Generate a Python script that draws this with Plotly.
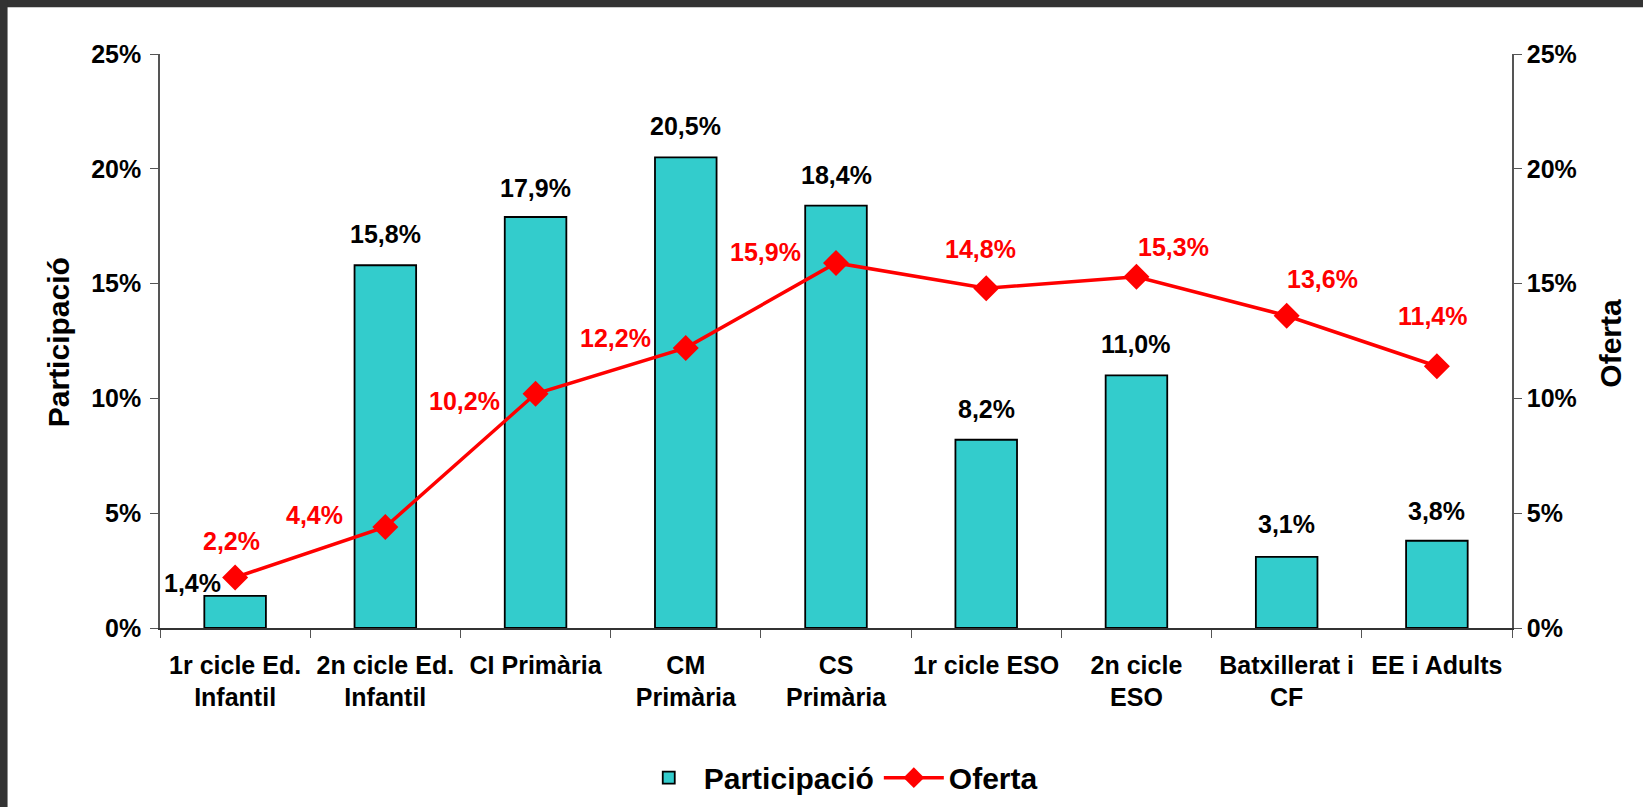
import plotly.graph_objects as go

categories = ["1r cicle Ed.<br>Infantil", "2n cicle Ed.<br>Infantil", "CI Primària",
              "CM<br>Primària", "CS<br>Primària", "1r cicle ESO", "2n cicle<br>ESO",
              "Batxillerat i<br>CF", "EE i Adults"]
participacio = [1.4, 15.8, 17.9, 20.5, 18.4, 8.2, 11.0, 3.1, 3.8]
oferta = [2.2, 4.4, 10.2, 12.2, 15.9, 14.8, 15.3, 13.6, 11.4]
y_ticks = [0, 5, 10, 15, 20, 25]
y_tick_text = ["0%", "5%", "10%", "15%", "20%", "25%"]

# label offsets (pixels) relative to point
bar_label_shift = [(-43, 13), (0, 31), (0, 29), (0, 31), (0, 31), (0, 31), (0, 31), (0, 33), (0, 30)]
line_label_shift = [(-4, 36), (-71, 12), (-71, -7), (-70, 10), (-71, 11), (-6, 39), (37, 30), (36, 37), (-4, 50)]

FONT = "Liberation Sans, Arial, sans-serif"
W, H = 1643, 807
ML, MR, MT, MB = 159.5, 131, 54.3, 178.7
PW, PH = W - ML - MR, H - MT - MB

def fmt(v):
    return f"{v:.1f}".replace(".", ",") + "%"

fig = go.Figure()
fig.add_trace(go.Bar(
    x=categories, y=participacio, name="Participació",
    marker=dict(color="#33CCCC", line=dict(color="#000000", width=1.8)),
))
fig.add_trace(go.Scatter(
    x=categories, y=oferta, name="Oferta", yaxis="y2", mode="lines+markers",
    line=dict(color="#FF0000", width=3.5),
    marker=dict(symbol="diamond", size=20, color="#FF0000"),
))

ann = []
for c, v, (dx, dy) in zip(categories, participacio, bar_label_shift):
    ann.append(dict(x=c, y=v, xref="x", yref="y", text=fmt(v), showarrow=False,
                    xanchor="center", yanchor="middle",
                    xshift=dx, yshift=dy, font=dict(size=25, color="#000000", family=FONT, weight="bold")))
for c, v, (dx, dy) in zip(categories, oferta, line_label_shift):
    ann.append(dict(x=c, y=v, xref="x", yref="y2", text=fmt(v), showarrow=False,
                    xanchor="center", yanchor="middle",
                    xshift=dx, yshift=dy, font=dict(size=25, color="#FF0000", family=FONT, weight="bold")))

# axis titles
ann.append(dict(x=(58 - ML) / PW, y=(H - MB - 343) / PH, xref="paper", yref="paper",
                xanchor="center", yanchor="middle",
                text="Participació", textangle=-90, showarrow=False,
                font=dict(size=30, color="#000000", family=FONT, weight="bold")))
ann.append(dict(x=(1611 - ML) / PW, y=(H - MB - 343) / PH, xref="paper", yref="paper",
                xanchor="center", yanchor="middle",
                text="Oferta", textangle=-90, showarrow=False,
                font=dict(size=30, color="#000000", family=FONT, weight="bold")))

# dark frame strips (top and left)
shapes = [
    dict(type="rect", xref="paper", yref="paper", layer="above",
         x0=-ML / PW - 0.01, x1=(W - ML) / PW + 0.01, y0=(H - MB - 7.5) / PH, y1=(H - MB + 2) / PH,
         fillcolor="#333333", line=dict(width=0)),
    dict(type="rect", xref="paper", yref="paper", layer="above",
         x0=-ML / PW - 0.01, x1=(7 - ML) / PW, y0=-MB / PH - 0.01, y1=(H - MB + 2) / PH,
         fillcolor="#333333", line=dict(width=0)),
]

tickfont = dict(size=25, color="#000000", family=FONT, weight="bold")
fig.update_layout(
    template="none",
    width=W, height=H,
    margin=dict(l=ML, r=MR, t=MT, b=MB, pad=0, autoexpand=False),
    paper_bgcolor="#FFFFFF", plot_bgcolor="#FFFFFF",
    font=dict(family=FONT, color="#000000", weight="bold"),
    bargap=0.59,
    showlegend=True,
    legend=dict(orientation="h", x=(838 - ML) / PW, xanchor="center", y=(H - MB - 778) / PH, yanchor="middle",
                font=dict(size=30, family=FONT, color="#000000", weight="bold"),
                itemwidth=60, bgcolor="rgba(0,0,0,0)"),
    xaxis=dict(type="category", range=[-0.5, len(categories) - 0.5], showline=True,
               linecolor="#333333", linewidth=1.5,
               ticks="outside", ticklen=8, tickcolor="#555555", tickson="boundaries",
               tickfont=tickfont, tickangle=0, showgrid=False, zeroline=False, automargin=False,
               ticklabelstandoff=14),
    yaxis=dict(range=[0, 25], tickmode="array", tickvals=y_ticks, ticktext=y_tick_text, showline=True,
               linecolor="#555555", linewidth=1.5, ticks="outside", ticklen=8, tickcolor="#555555",
               tickfont=tickfont, showgrid=False, zeroline=False, automargin=False,
               ticklabelstandoff=4),
    yaxis2=dict(range=[0, 25], tickmode="array", tickvals=y_ticks, ticktext=y_tick_text,
                overlaying="y", side="right",
                showline=True, linecolor="#555555", linewidth=1.5, ticks="outside", ticklen=8,
                tickcolor="#555555", tickfont=tickfont, showgrid=False, zeroline=False,
                automargin=False),
    annotations=ann,
    shapes=shapes,
)

fig.write_html("out.html", config={"displayModeBar": False},
               post_script="document.body.style.margin='0';document.body.style.overflow='hidden';")
